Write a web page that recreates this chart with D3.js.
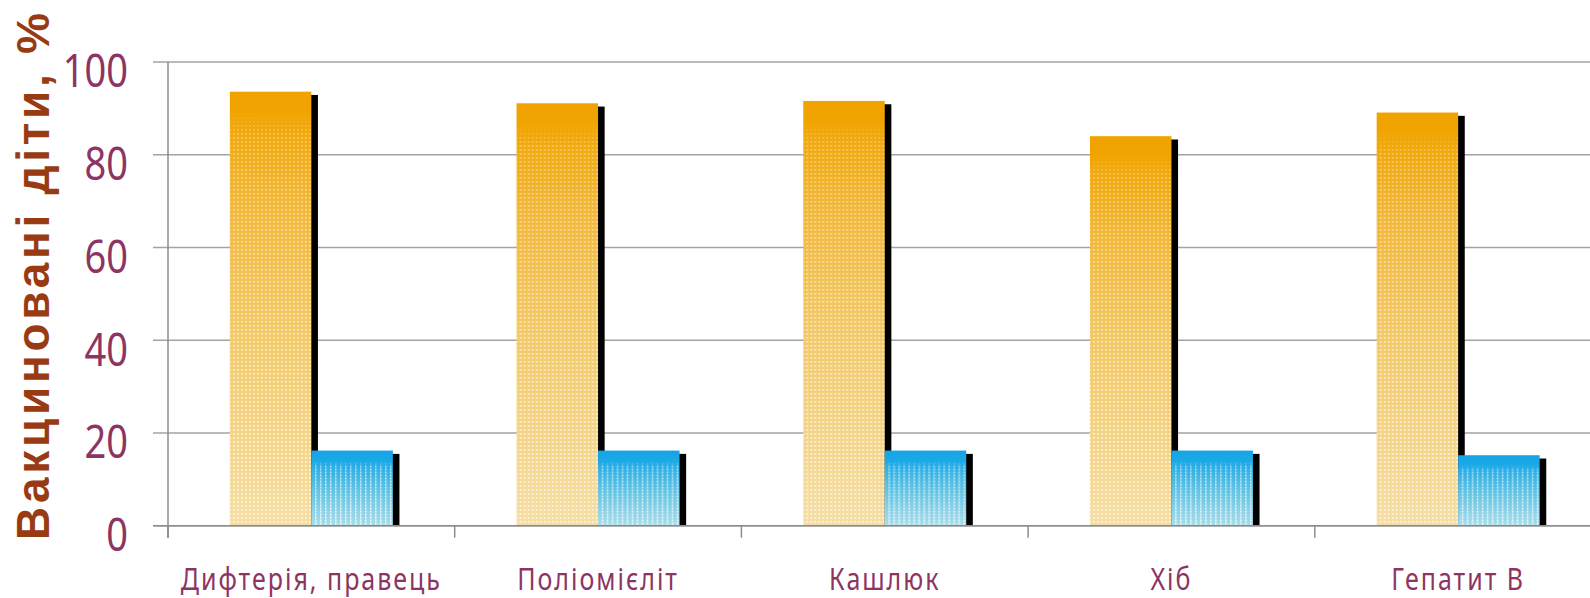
<!DOCTYPE html>
<html>
<head>
<meta charset="utf-8">
<script src="https://cdn.jsdelivr.net/npm/d3@7"></script>
<style>
  html, body { margin: 0; padding: 0; background: #fff; overflow: hidden; }
</style>
</head>
<body>
<svg id="chart" width="1590" height="598"></svg>
<script>
// Vaccination coverage by vaccine, two groups of children
const categories = ["Дифтерія, правець", "Поліомієліт", "Кашлюк", "Хіб", "Гепатит В"];
const seriesA = [93.6, 91.1, 91.6, 84.0, 89.1];
const seriesB = [16.2, 16.2, 16.2, 16.2, 15.2];
const seriesKeys = ["a", "b"];
const yTicks = [0, 20, 40, 60, 80, 100];
const yTitle = "Вакциновані діти, %";

const W = 1590, H = 598;
const plotLeft = 168, plotTop = 62, plotBottom = 525.7, catStep = 286.7;
const gridStart = 153, tickLen = 12;

const svg = d3.select("#chart");

const y = d3.scaleLinear().domain([0, 100]).range([plotBottom, plotTop]);
const x0 = d3.scaleBand()
  .domain(categories)
  .range([plotLeft, plotLeft + catStep * categories.length])
  .paddingInner(0).paddingOuter(0);
const x1 = d3.scaleBand()
  .domain(seriesKeys)
  .range([0, x0.bandwidth()])
  .paddingInner(0).paddingOuter(0.759);

// ---- gradients, halftone patterns and masks ----
const defs = svg.append("defs");

function linGrad(id, stops) {
  const g = defs.append("linearGradient").attr("id", id)
    .attr("x1", 0).attr("y1", 0).attr("x2", 0).attr("y2", 1);
  stops.forEach(([o, c]) => g.append("stop").attr("offset", o).attr("stop-color", c));
}
linGrad("gradA", [[0, "#f0a300"], [0.04, "#f0a400"], [0.25, "#f1b73a"], [0.55, "#f2c969"], [1, "#f5dea6"]]);
linGrad("gradB", [[0, "#15a4e6"], [0.12, "#1aa8e6"], [0.45, "#55bfe4"], [1, "#a9dde9"]]);
linGrad("fadeA", [[0, "#000"], [0.05, "#000"], [0.1, "#666"], [0.5, "#aaa"], [1, "#d0d0d0"]]);
linGrad("fadeB", [[0, "#000"], [0.15, "#000"], [0.22, "#999"], [1, "#e0e0e0"]]);

const patA = defs.append("pattern").attr("id", "dotsA")
  .attr("patternUnits", "userSpaceOnUse").attr("width", 4).attr("height", 4);
patA.append("rect").attr("x", 1).attr("y", 1).attr("width", 1.7).attr("height", 1.7).attr("fill", "#fff");

const patB = defs.append("pattern").attr("id", "dotsB")
  .attr("patternUnits", "userSpaceOnUse").attr("width", 5).attr("height", 3);
patB.append("rect").attr("x", 2).attr("y", 0.5).attr("width", 1.5).attr("height", 2).attr("fill", "#fff");

function fadeMask(id, grad) {
  defs.append("mask").attr("id", id).attr("maskContentUnits", "objectBoundingBox")
    .append("rect").attr("x", 0).attr("y", 0).attr("width", 1).attr("height", 1)
    .attr("fill", `url(#${grad})`);
}
fadeMask("maskA", "fadeA");
fadeMask("maskB", "fadeB");

// ---- gridlines ----
svg.append("g").selectAll("line").data(yTicks).join("line")
  .attr("x1", gridStart).attr("x2", W)
  .attr("y1", d => y(d)).attr("y2", d => y(d))
  .attr("stroke", "#a3a3a3").attr("stroke-width", 1.5);

// ---- bars with drop shadows ----
const series = [
  { key: "a", values: seriesA, fill: "url(#gradA)", dots: "url(#dotsA)", mask: "url(#maskA)" },
  { key: "b", values: seriesB, fill: "url(#gradB)", dots: "url(#dotsB)", mask: "url(#maskB)" }
];
const shDx = 6.6, shDy = 3.3;

const barsG = svg.append("g");
categories.forEach((cat, i) => {
  const g = barsG.append("g").attr("transform", `translate(${x0(cat)},0)`);
  series.forEach(s => {
    const v = s.values[i];
    const bx = x1(s.key), bw = x1.bandwidth(), by = y(v), bh = y(0) - y(v);
    g.append("rect")
      .attr("x", bx + shDx).attr("y", by + shDy)
      .attr("width", bw).attr("height", bh - shDy)
      .attr("fill", "#000");
    g.append("rect")
      .attr("x", bx).attr("y", by).attr("width", bw).attr("height", bh)
      .attr("fill", s.fill);
    g.append("rect")
      .attr("x", bx).attr("y", by).attr("width", bw).attr("height", bh)
      .attr("fill", s.dots).attr("mask", s.mask);
  });
});

// ---- axes ----
const axisColor = "#8c8c8c";
svg.append("line")
  .attr("x1", plotLeft).attr("x2", plotLeft)
  .attr("y1", y(100)).attr("y2", y(0) + tickLen)
  .attr("stroke", axisColor).attr("stroke-width", 1.5);
svg.append("line")
  .attr("x1", gridStart).attr("x2", W)
  .attr("y1", y(0)).attr("y2", y(0))
  .attr("stroke", axisColor).attr("stroke-width", 1.5);

const boundaries = categories.map(c => x0(c)).concat([x0(categories[categories.length - 1]) + x0.bandwidth()]);
svg.append("g").selectAll("line").data(boundaries).join("line")
  .attr("x1", d => d).attr("x2", d => d)
  .attr("y1", y(0)).attr("y2", y(0) + tickLen)
  .attr("stroke", axisColor).attr("stroke-width", 1.5);

// y tick labels
const labelColor = "#8d3463";
svg.append("g").selectAll("text").data(yTicks).join("text")
  .attr("transform", d => `translate(128,${y(d) + 9}) scale(1,1.2)`)
  .attr("y", 13.7)
  .attr("text-anchor", "end")
  .attr("font-family", "'Noto Sans', sans-serif")
  .attr("font-size", 38)
  .attr("fill", labelColor)
  .text(d => d);

// category labels
svg.append("g").selectAll("text").data(categories).join("text")
  .attr("transform", d => `translate(${x0(d) + x0.bandwidth() / 2},590) scale(1,1.25)`)
  .attr("text-anchor", "middle")
  .attr("font-family", "'Noto Sans', sans-serif")
  .attr("font-size", 25)
  .attr("letter-spacing", 2)
  .attr("fill", labelColor)
  .text(d => d);

// y axis title
svg.append("text")
  .attr("transform", "translate(49,540) rotate(-90)")
  .attr("text-anchor", "start")
  .attr("font-family", "'Liberation Sans', Arial, sans-serif")
  .attr("font-weight", "bold")
  .attr("font-size", 46)
  .attr("textLength", 527)
  .attr("lengthAdjust", "spacing")
  .attr("fill", "#983b12")
  .text(yTitle);
</script>
</body>
</html>
